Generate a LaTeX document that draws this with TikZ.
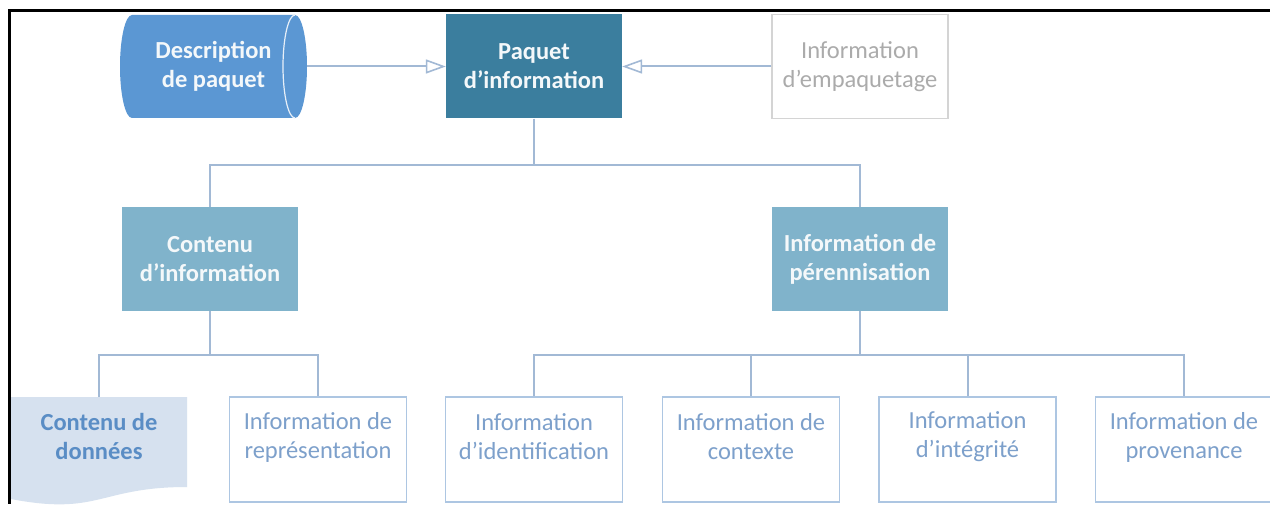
\documentclass[tikz,border=0pt]{standalone}
\usepackage{fontspec}
\setmainfont{Carlito}
\usetikzlibrary{arrows.meta}
\definecolor{cylblue}{HTML}{5B97D3}
\definecolor{paqteal}{HTML}{3B7E9E}
\definecolor{midblue}{HTML}{80B3CB}
\definecolor{linec}{HTML}{A2B9D5}
\definecolor{lowborder}{HTML}{ADC6E2}
\definecolor{lowtextc}{HTML}{7DA0CB}
\definecolor{graybord}{HTML}{D4D4D4}
\definecolor{graytextc}{HTML}{ABABAB}
\definecolor{docfill}{HTML}{D6E1EF}
\definecolor{doctextc}{HTML}{5A8DC5}
\definecolor{offwhite}{HTML}{F4F8FA}
\begin{document}
\begin{tikzpicture}[x=1pt,y=1pt,
  txt/.style={font=\fontsize{24.5}{29}\selectfont, align=center, inner sep=0pt},
  boldtxt/.style={txt, font=\fontsize{24.5}{29}\selectfont\bfseries},
  topbox/.style={boldtxt, rectangle, minimum width=176, minimum height=104, fill=paqteal, text=offwhite},
  midbox/.style={boldtxt, rectangle, minimum width=176, minimum height=104, fill=midblue, text=offwhite},
  graybox/.style={txt, rectangle, minimum width=176, minimum height=104, draw=graybord, line width=1.5pt, text=graytextc},
  lowbox/.style={rectangle, minimum width=177, minimum height=105, draw=lowborder, line width=1.5pt},
  lowlabel/.style={txt, text=lowtextc},
  conn/.style={draw=linec, line width=2pt},
  openarrow/.style={conn, -{Triangle[open, fill=white, length=20pt, width=14pt, line width=1.6pt]}},
  frameline/.style={line width=3pt, black}
]
\clip (0,0) rectangle (1270,504);
\fill[white] (0,0) rectangle (1270,504);

% cylinder "Description de paquet"
\fill[cylblue] (132,489) -- (295,489)
  arc[start angle=90, end angle=-90, x radius=12, y radius=51.5]
  -- (132,386)
  arc[start angle=270, end angle=90, x radius=12, y radius=51.5] -- cycle;
\draw[white!85!cylblue, line width=1.2pt] (295,489)
  arc[start angle=90, end angle=270, x radius=12, y radius=51.5];
\node[boldtxt, text=offwhite, minimum width=187, minimum height=103] (desc) at (213.5,437.5) {Description\\de paquet};

% top level
\node[topbox] (paquet) at (534,437.5) {Paquet\\d’information};
\node[graybox] (empaq) at (860,437.5) {Information\\d’empaquetage};

% level 2
\node[midbox] (contenu) at (210,245) {Contenu\\d’information};
\node[midbox] (peren) at (860,245) {Information de\\pérennisation};

% document shape "Contenu de données"
\fill[docfill] (11,107) -- (187,107) -- (187,17)
  .. controls (99,17) and (99,-12) .. (11,5) -- cycle;
\node[boldtxt, text=doctextc] (donnees) at (99,68) {Contenu de\\données};
\coordinate (donneestop) at (99,107);

% level 3 boxes
\node[lowbox] (repr) at (318,54.5) {};
\node[lowlabel] (repr-t) at (318,67) {Information de\\représentation};
\node[lowbox] (ident) at (534,54.5) {};
\node[lowlabel] (ident-t) at (534,67) {Information\\d’identification};
\node[lowbox] (contexte) at (751,54.5) {};
\node[lowlabel] (contexte-t) at (751,67) {Information de\\contexte};
\node[lowbox] (integ) at (967.5,54.5) {};
\node[lowlabel] (integ-t) at (967.5,67) {Information\\d’intégrité};
\node[lowbox, minimum width=185] (prov) at (1188,54.5) {};
\node[lowlabel] (prov-t) at (1184,67) {Information de\\provenance};

% connectors
\draw[openarrow] (desc.east) -- (paquet.west);
\draw[openarrow] (empaq.west) -- (paquet.east);

\coordinate (j1) at (534,339);
\draw[conn] (paquet.south) -- (j1);
\draw[conn] (contenu.north) |- (j1) -| (peren.north);

\coordinate (j2) at (210,149);
\draw[conn] (contenu.south) -- (j2);
\draw[conn] (donneestop) |- (j2) -| (repr.north);

\coordinate (j3) at (860,149);
\draw[conn] (peren.south) -- (j3);
\draw[conn] (ident.north) |- (j3) -| ([xshift=-4pt]prov.north);
\draw[conn] (contexte.north) -- (contexte.north |- j3);
\draw[conn] (integ.north) -- (integ.north |- j3);

% frame
\draw[frameline] (8,493) -- (1270,493);
\draw[frameline] (9.5,494.5) -- (9.5,0);
\end{tikzpicture}
\end{document}
